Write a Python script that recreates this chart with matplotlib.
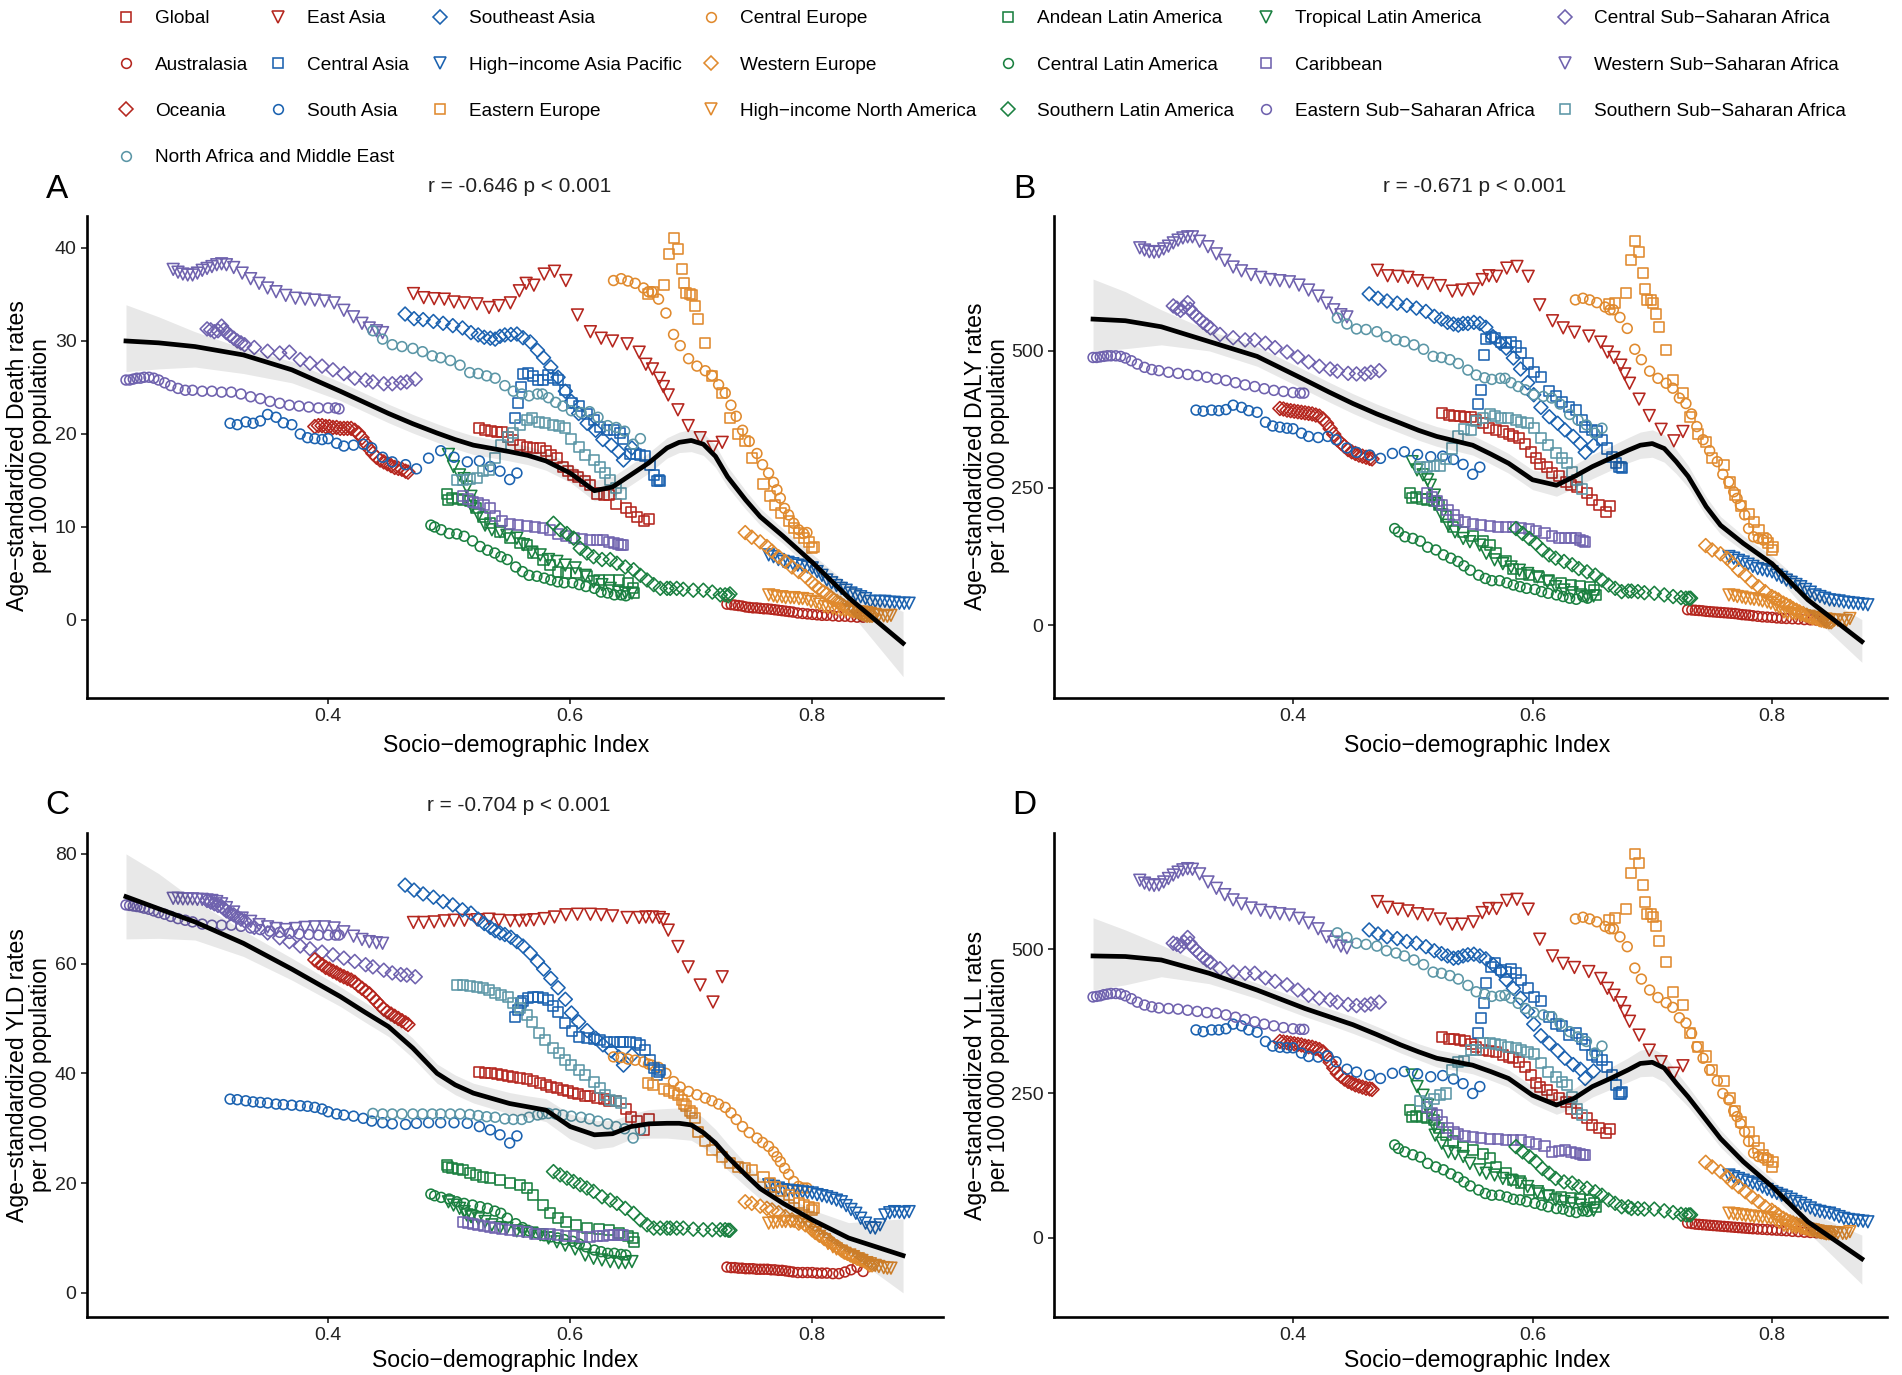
import matplotlib
matplotlib.use('Agg')
import matplotlib.pyplot as plt
from matplotlib.lines import Line2D

plt.rcParams['font.family'] = ['Liberation Sans', 'DejaVu Sans']

W, H = 1902, 1375

# values, one sdi list per region and one list per measure
sdi_global = [.5243,.530,.5345,.5393,.5435,.549,.553,.5587,.564,.5693,.575,.580,.584,.589,.594,.5985,.6025,.6066,.612,.616,.6225,.628,.632,.6375,.6458,.650,.6555,.661,.665]
death_global = [20.6,20.4,20.3,20.25,20.25,19.7,19.4,18.8,18.6,18.5,18.5,18.2,17.7,17.4,16.5,16,15.6,15.4,14.9,14.5,13.6,13.4,13.4,12.5,12,11.6,11.1,10.6,10.9]
daly_global = [386,383,382,382,380,379,374,368,359,356,353,348,344,341,331,316,304,294,289,277,271,261,255,252,240,228,219,207,217]
yld_global = [40.2,40.1,40,39.8,39.7,39.6,39.4,39.2,38.9,38.6,38.3,37.9,37.6,37.4,37,36.7,36.5,36.2,35.9,35.8,35.5,35.3,35,34.9,33.5,32.1,31.3,29.7,31.6]
yll_global = [348,345,344,343,340,336,331,325,324,322,317,313,311,305,296,282,268,262,256,247,242,236,224,216,207,195,190,181,188]

sdi_east_asia = [.4705,.479,.4876,.496,.504,.5126,.523,.533,.541,.5506,.558,.5636,.570,.5785,.587,.5964,.606,.6167,.6256,.635,.647,.657,.6625,.668,.6737,.677,.681,.689,.6975,.7074,.718,.7256]
death_east_asia = [35.1,34.66,34.55,34.5,34.2,34.1,34,33.6,33.8,34.1,35.4,36.2,36,37.2,37.5,36.5,32.8,31,30.3,30,29.7,28.8,27.5,27,26,25.1,24.2,22.6,20.9,19.6,18.6,19.1]
daly_east_asia = [647,637,636,634,628,623,619,609,611,613,630,637,636,651,654,636,584,555,542,534,527,516,498,488,474,458,441,412,382,357,336,353]
yld_east_asia = [67.5,67.5,67.6,67.8,67.9,67.9,68.0,68.1,67.9,67.8,67.8,67.9,68.0,68.2,68.5,68.9,69,69,68.9,68.7,68.4,68.4,68.5,68.5,68.4,68.0,66.1,63.1,59.4,56.1,53,57.6]
yll_east_asia = [582,572,569,566,561,559,552,543,543,547,563,570,570,584,586,569,517,488,475,468,461,449,432,420,407,392,375,351,325,305,285,298]

sdi_se_asia = [.4636,.471,.4785,.487,.495,.503,.511,.518,.524,.529,.534,.538,.542,.546,.551,.556,.561,.567,.573,.578,.584,.590,.596,.601,.607,.614,.621,.627,.634,.640,.644,.651]
death_se_asia = [32.9,32.4,32.3,32.1,31.9,31.65,31.4,30.9,30.65,30.4,30.3,30.2,30.5,30.65,30.7,30.75,30.35,29.9,29,28.2,27.2,26.1,24.6,23.5,22.2,21.15,20.4,19.4,18.8,18.1,17.2,18.5]
daly_se_asia = [604,596,591,587,583,578,572,563,558,552,549,547,550,550,552,550,543,526,514,505,487,467,442,420,397,380,368,356,344,331,315,328]
yld_se_asia = [74.3,73.4,72.7,72.1,71.3,70.7,69.8,69.2,68.1,67.3,66.6,66,65.6,65.3,64.8,64,63.2,61.9,60.4,59,57.3,55.6,53.5,51,49.4,47.8,46.4,45.2,44.1,43,41.5,43.3]
yll_se_asia = [533,526,521,518,513,510,504,497,492,488,484,485,488,490,491,488,483,473,462,447,432,415,392,370,350,337,324,311,300,292,276,289]

sdi_c_europe = [.6358,.6421,.6477,.6537,.6606,.6647,.6675,.673,.6791,.6854,.6909,.6978,.7047,.7116,.7171,.7226,.7281,.7328,.7372,.7424,.7479,.7543,.7589,.7639,.768,.7708,.7736,.7771,.7804,.7846,.7887,.7928,.7956]
death_c_europe = [36.5,36.7,36.45,36.2,35.7,35.3,35.3,34.5,33,30.7,29.5,28.1,27.3,26.8,26.3,25.3,24.4,23.1,21.9,20.4,19.2,17.9,16.7,15.8,14.8,14,13.1,12,11.3,10.4,9.7,9.3,9.4]
daly_c_europe = [593,596,593,588,580,575,575,561,541,503,484,463,450,441,432,414,404,385,362,338,318,298,275,261,243,231,219,201,176,161,158,155,158]
yld_c_europe = [43,42.9,42.6,42.4,42.1,41.7,41.5,41.1,40,38.5,37.5,36.7,36.1,35.5,35,34.4,33.8,32.8,31.6,30.3,29.2,28.2,27.4,26.7,25.7,24.8,23.9,22.7,21.6,20.3,19.4,19.1,19.1]
yll_c_europe = [552,555,552,547,539,535,535,521,504,467,448,429,416,407,399,381,372,354,331,311,291,272,250,239,220,210,198,184,167,147,141,138,139]

sdi_andean = [.498,.4992,.5025,.5074,.5116,.5174,.5223,.528,.5339,.542,.5504,.5587,.5645,.5694,.5777,.5835,.59,.5967,.605,.614,.6239,.632,.64,.648,.6516,.653]
death_andean = [13.5,12.9,13.1,13,12.9,12.8,12,11.1,10.4,9.5,8.8,8.25,8.1,7.2,6.5,5.9,5.2,5,5,4.7,4.3,4.3,4.3,4,3.4,2.9]
daly_andean = [240,231,233,230,229,227,219,198,179,170,162,154,146,131,116,103,94,91,88,82,76,73,71,70,64,55]
yld_andean = [23.3,23,22.7,22.5,22.4,21.8,21.5,21.2,20.9,20.5,20.1,19.7,19.1,17.9,16,14.5,13.6,13,12.4,11.8,11.6,11.4,10.9,10.3,10,9.3]
yll_andean = [221,210,211,209,207,204,190,178,167,158,152,146,138,123,112,100,95,83,77,74,71,69,67,66,61,54]

sdi_tropical = [.4994,.5036,.5086,.5124,.5146,.518,.5187,.5242,.5297,.5353,.5421,.5477,.5559,.5614,.5683,.5752,.5821,.589,.5959,.6041,.6124,.6193,.6262,.6331,.64,.6455,.651]
death_tropical = [17.8,16.5,15.6,15.2,14.3,13.3,12.2,11.3,10.2,9.7,9.5,9.1,8.8,8.1,7.3,7,6.5,6.3,5.9,5.6,4.8,4.1,3.8,3.4,3,2.9,2.9]
daly_tropical = [298,283,274,265,255,237,222,201,182,170,158,152,146,131,119,112,106,100,94,88,79,70,64,59,55,52,53]
yld_tropical = [16.6,16,15.4,14.8,14.2,13.9,13.9,13.5,13,12.4,11.9,11.8,11.3,11.2,10.9,10.6,10,9.3,8.7,8,6.9,6.3,6,5.7,5.5,5.5,5.7]
yll_tropical = [282,262,247,230,213,193,178,164,149,146,141,129,118,112,109,103,100,97,89,80,72,66,63,60,57,51,48]

sdi_c_ssa = [.300,.303,.306,.309,.312,.314,.316,.319,.322,.325,.328,.331,.339,.350,.360,.368,.377,.385,.395,.404,.413,.422,.431,.437,.446,.453,.460,.465,.472]
death_c_ssa = [31.3,31.2,31.0,31.1,31.6,31.2,30.9,30.6,30.3,30.0,29.8,29.6,29.3,28.9,28.7,28.8,28.0,27.6,27.3,26.9,26.5,26.0,25.8,25.6,25.4,25.4,25.5,25.6,25.9]
daly_c_ssa = [582,578,574,580,588,576,570,564,558,552,547,542,530,524,520,520,514,506,498,489,480,472,467,463,459,458,458,461,464]
yld_c_ssa = [71.5,71.2,70.9,70.6,70.4,70,69.6,69.2,68.9,68.5,68.1,67.8,66.6,65.6,64.7,64,63.2,62.7,62.1,61.6,61,60.4,59.8,59.4,58.8,58.3,58,57.9,57.6]
yll_c_ssa = [510,508,505,512,520,510,504,498,492,486,481,477,466,460,458,458,450,444,438,429,420,415,412,408,404,402,403,405,408]

sdi_australasia = [.7295,.733,.736,.739,.742,.745,.748,.751,.754,.757,.760,.763,.766,.769,.772,.775,.778,.781,.784,.788,.792,.796,.800,.804,.808,.812,.817,.822,.827,.832,.837,.842]
death_australasia = [1.7,1.65,1.6,1.55,1.5,1.4,1.35,1.3,1.3,1.25,1.2,1.2,1.15,1.1,1.05,1,.95,.9,.85,.75,.7,.65,.6,.55,.5,.5,.45,.4,.4,.35,.3,.3]
daly_australasia = [28,27.5,27,26.5,26,25,24.5,24,23.5,23,22.5,22,21.5,21,20,19,18.5,18,17,16,15,14.5,14,13,12.5,12,11.5,11,10,9.5,9,8]
yld_australasia = [4.7,4.6,4.6,4.5,4.5,4.4,4.4,4.4,4.3,4.3,4.3,4.3,4.2,4.2,4.1,4.1,4,3.9,3.8,3.7,3.7,3.7,3.7,3.6,3.6,3.6,3.5,3.5,3.8,4.2,4.7,3.9]
yll_australasia = [26,25,24,23.5,23,22.5,22,21.5,21,20.5,20,19.5,19,18.5,18,17.5,17,16.5,16,15.5,15,14.5,14,13.5,13,12.5,11.5,11,10,9.5,9,8]

sdi_c_asia = [.5545,.5567,.5592,.561,.5653,.569,.5736,.5777,.582,.586,.590,.596,.6014,.607,.614,.6195,.625,.6307,.636,.6413,.644,.6496,.654,.658,.662,.666,.6695,.672,.6744,.6736]
death_c_asia = [21.7,23.3,25.1,26.5,26.6,26.2,25.8,25.8,26.3,26,25.8,24.7,23.3,23,22.2,21.5,20.8,20.4,20.4,20.1,19.5,17.9,17.9,17.7,17.6,16.7,15.6,14.9,14.9,15.1]
daly_c_asia = [403,429,493,521,526,523,517,514,517,508,496,477,461,453,426,417,407,398,392,374,362,356,353,338,322,307,295,289,286,288]
yld_c_asia = [50.2,51.6,52.8,53.1,53.7,53.9,53.9,53.7,53.4,52.3,51.2,49.2,47.8,46.7,46.4,46.3,46,45.8,45.8,45.8,45.8,45.7,45.5,45.2,44.2,42.4,40.9,39.7,40.6,40.3]
yll_c_asia = [355,380,407,442,469,475,464,461,466,458,446,432,417,410,383,371,366,351,354,345,334,317,314,308,296,282,265,250,253,250]

sdi_hi_ap = [.764,.768,.772,.776,.780,.784,.788,.792,.796,.800,.804,.808,.812,.816,.820,.824,.828,.832,.836,.840,.844,.848,.852,.856,.860,.864,.868,.872,.876,.880]
death_hi_ap = [7,6.8,6.5,6.3,6.2,6.05,5.9,5.8,5.7,5.6,5.2,4.8,4.3,4,3.7,3.4,3.2,2.9,2.7,2.5,2.3,2,2,2,2,1.9,1.9,1.8,1.8,1.8]
daly_hi_ap = [125,122,118,115,111,107,103,101,99,97,91,87,82,78,74,70,65,60,55,52,49,46,45,44,42,41,40,39,38,37]
yld_hi_ap = [19.7,19.4,19.1,18.8,18.7,18.6,18.5,18.4,18.3,18.2,17.9,17.7,17.5,17.2,16.9,16.6,15.9,15.2,14.5,13.6,12.7,11.9,11.8,12.4,14.2,14.6,14.8,14.7,14.6,14.8]
yll_hi_ap = [109,106,103,100,97,95,92,88,84,80,77,74,71,67,63,60,56,52,48,46,44,43,40,37,34,32,31,30,29,28]

sdi_w_europe = [.7446,.75,.757,.7625,.7667,.7722,.7777,.7832,.7888,.7943,.7998,.8025,.8053,.8094,.812,.815,.8175,.8204,.823,.826,.829,.8315,.834,.837,.8395,.8412,.8435,.8453,.8475,.8494]
death_w_europe = [9.4,8.9,8.4,7.9,7.4,6.8,6.3,5.7,5.2,4.7,4,3.7,3.4,3,2.8,2.5,2.2,2,1.8,1.5,1.3,1.15,1,.9,.8,.7,.6,.5,.5,.5]
daly_w_europe = [145,137,130,122,113,100,91,79,70,61,52,49,46,40,37,34,30,27,24,21,18,15,13,12,10,9,8,7,6,6]
yld_w_europe = [16.6,16.3,15.8,15.4,15.1,14.6,13.9,13.3,12.7,12.4,11.5,11,10.6,10,9.7,9.3,8.8,8.4,8,7.5,7.2,6.9,6.6,6.3,6.1,6,5.8,5.5,5.1,5.1]
yll_w_europe = [131,123,115,106,97,89,80,71,63,54,48,44,40,34,31,28,26,24,22,19,17,15,14,13,12,11,10,9,9,9]

sdi_c_latam = [.4849,.488,.4934,.5,.5063,.5124,.5193,.5256,.5317,.5377,.5427,.548,.555,.5606,.566,.5725,.5786,.584,.5896,.595,.602,.6075,.613,.62,.6255,.631,.6365,.642,.646]
death_c_latam = [10.2,10,9.7,9.3,9.25,9,8.5,7.9,7.5,7.2,6.8,6.5,5.7,5.2,4.8,4.7,4.5,4.3,4.1,4,4,3.8,3.6,3.4,3,2.9,2.7,2.7,2.6]
daly_c_latam = [176,170,161,158,153,142,137,128,122,116,108,100,91,85,81,81,77,73,70,67,65,61,58,55,52,49,47,52,49]
yld_c_latam = [18,17.7,17.4,17.1,16.6,16.3,16,15.7,15.4,14.9,14.5,13.6,12.6,11.9,11.3,10.9,10.4,10.2,10,9.7,9.4,8.9,8.4,7.8,7.5,7.2,7.2,7,6.9]
yll_c_latam = [161,155,149,144,140,129,123,118,111,105,97,90,83,77,74,74,71,67,66,63,60,57,54,51,50,46,44,47,46]

sdi_caribbean = [.5116,.5157,.52,.524,.529,.534,.538,.5438,.5504,.557,.5645,.571,.5777,.5835,.59,.5967,.6033,.61,.6165,.6223,.6273,.6322,.6364,.6397,.642,.644]
death_caribbean = [13.3,13,12.7,12.6,12.4,12,11.2,10.6,10.3,10.2,10.1,10,9.9,9.7,9.25,9,8.8,8.7,8.6,8.6,8.55,8.4,8.25,8.15,8.1,8.1]
daly_caribbean = [240,234,227,219,210,201,192,188,185,182,180,179,178,178,177,175,172,168,162,158,158,159,158,155,153,151]
yld_caribbean = [13,12.8,12.6,12.4,12.2,12,11.8,11.6,11.4,11.2,11.0,10.8,10.7,10.7,10.6,10.4,10.3,10.2,10.2,10.3,10.4,10.5,10.6,10.6,10.6,10.5]
yll_caribbean = [227,216,213,201,190,184,180,176,175,173,172,171,170,170,169,166,162,160,149,150,152,149,147,145,144,143]

sdi_w_ssa = [.272,.276,.280,.284,.288,.292,.296,.300,.304,.308,.312,.316,.322,.329,.336,.343,.350,.357,.365,.373,.381,.389,.397,.405,.413,.421,.428,.434,.440,.445]
death_w_ssa = [37.7,37.4,37.2,37.1,37.1,37.3,37.6,37.8,38.0,38.2,38.3,38.2,37.9,37.3,36.7,36.2,35.7,35.3,34.9,34.6,34.5,34.4,34.3,34.1,33.3,32.6,31.9,31.4,31.1,30.9]
daly_w_ssa = [688,684,681,680,681,686,691,697,702,706,708,708,700,690,677,665,653,646,639,634,630,628,626,620,611,600,587,575,566,562]
yld_w_ssa = [71.9,71.9,71.8,71.8,71.8,71.7,71.7,71.6,71.5,71.3,70.9,70.2,69.4,68.3,67.7,67.1,66.7,66.4,66.2,66.4,66.6,66.7,66.7,66.5,65.8,65,64.4,64,63.8,63.7]
yll_w_ssa = [619,614,611,610,611,616,622,628,633,637,639,638,630,616,605,594,585,578,571,567,563,561,559,553,545,535,521,512,505,502]

sdi_oceania = [.389,.392,.395,.398,.401,.404,.407,.410,.413,.416,.419,.422,.425,.428,.431,.434,.437,.440,.443,.446,.449,.452,.455,.458,.461,.464,.466]
death_oceania = [20.8,20.9,20.9,20.8,20.8,20.7,20.7,20.6,20.6,20.6,20.6,20.4,20.1,19.6,19.0,18.4,17.9,17.5,17.2,17.0,16.8,16.6,16.4,16.3,16.2,16.0,15.9]
daly_oceania = [395,394,392,391,390,389,388,387,386,385,383,381,376,368,358,348,338,332,326,320,316,313,310,308,306,304,303]
yld_oceania = [60.7,60.2,59.8,59.3,59.0,58.6,58.3,57.9,57.6,57.3,57.0,56.6,56.0,55.5,55.0,54.5,53.8,53.1,52.4,51.7,51.2,50.8,50.4,50.0,49.6,49.2,48.9]
yll_oceania = [340,339,338,337,336,335,334,332,331,330,328,326,322,314,304,294,285,280,275,271,268,265,263,261,259,258,257]

sdi_s_asia = [.319,.325,.332,.338,.344,.350,.357,.363,.370,.377,.383,.389,.395,.400,.407,.413,.421,.429,.436,.445,.453,.464,.473,.483,.493,.504,.515,.525,.534,.542,.550,.556]
death_s_asia = [21.15,21.0,21.3,21.15,21.4,22.1,21.8,21.2,21.0,20.0,19.6,19.5,19.4,19.5,19.0,18.7,18.8,18.9,18.5,17.5,17.0,16.7,16.25,17.4,18.2,17.5,17.0,17.1,16.5,16.0,15.1,15.8]
daly_s_asia = [392,390,392,391,393,401,397,391,388,370,363,361,359,358,350,344,342,344,338,323,315,310,304,313,316,311,307,308,302,293,275,288]
yld_s_asia = [35.3,35.2,35.0,34.8,34.7,34.6,34.4,34.3,34.2,34.1,34.0,33.8,33.5,33.0,32.6,32.4,32.2,31.8,31.3,31.0,30.8,30.7,30.9,31.0,31.0,31.0,30.9,30.3,29.7,28.8,27.3,28.6]
yll_s_asia = [360,357,360,360,362,370,367,360,356,340,332,330,329,329,320,314,313,315,305,292,287,282,276,285,288,284,279,281,275,267,250,262]

sdi_e_europe = [.6639,.6688,.6779,.682,.6887,.6854,.6923,.6942,.6956,.6992,.7006,.7028,.7058,.7111,.7171,.7254,.7317,.7383,.7446,.7501,.7597,.7647,.7694,.7744,.7804,.7846,.7887,.7928,.797,.7998,.8011]
death_e_europe = [35,35.3,36,39.4,39.9,41.1,37.7,36.2,35.2,35.1,34.9,33.8,32.4,29.8,26.2,24.4,21.7,20,19.2,17.4,14.6,13.3,12.4,11.5,10.6,9.9,9.3,8.8,8.4,7.7,7.9]
daly_e_europe = [585,588,605,665,681,701,642,613,592,592,587,567,543,502,447,424,379,348,334,304,292,260,237,217,202,188,173,158,149,137,143]
yld_e_europe = [38.2,37.8,37.2,36.7,36.1,36.4,35.2,34.5,34.1,33.2,32.7,31.8,29.4,27.6,26,24.8,23.7,23,22.7,22.4,21.1,20,19.3,18.5,17.9,17.2,16.3,16,15.7,15.1,15.4]
yll_e_europe = [550,553,569,631,648,665,610,582,560,560,556,539,514,477,425,403,354,331,314,291,272,242,219,201,184,167,155,144,135,123,132]

sdi_hi_na = [.764,.768,.771,.775,.778,.782,.785,.789,.792,.796,.799,.803,.806,.810,.813,.817,.820,.824,.827,.831,.834,.838,.841,.845,.848,.852,.855,.859,.862,.865]
death_hi_na = [2.7,2.6,2.5,2.5,2.4,2.4,2.4,2.3,2.3,2.2,2,1.9,1.7,1.45,1.35,1.25,1.15,1.1,1,.95,.9,.85,.85,.8,.7,.6,.5,.45,.4,.5]
daly_hi_na = [55,54,52,51,49,48,47,46,44,42,40,36,32,24,22,21,20,18,17,16,14,13,12,11,10,9,9,8,8,12]
yld_hi_na = [12.7,12.8,12.9,13,13,13,13,12.9,12.8,12.4,11.9,11,10.3,9.7,9,8.4,8,7.6,7.2,6.9,6.6,6.2,5.9,5.5,5.3,5,4.8,4.6,4.5,4.5]
yll_hi_na = [43,42,41,40,39,38,37,37,36,35,34,31,27,22,21,19,18,17,16,15,14,12,11,10,10,9,9,8,8,11]

sdi_s_latam = [.5862,.5917,.5973,.6028,.6083,.6138,.6193,.6263,.6331,.6386,.6455,.6524,.658,.6635,.669,.6744,.68,.6826,.688,.6934,.7017,.71,.7174,.7240,.728,.7306,.732]
death_s_latam = [10.4,9.7,9.3,8.8,7.7,7.2,6.8,6.5,6.5,6.1,5.7,5.4,4.8,4.3,3.8,3.4,3.4,3.4,3.4,3.3,3.2,3.2,3,2.7,2.7,2.6,2.8]
daly_s_latam = [176,167,158,149,137,128,122,116,110,103,97,91,82,73,67,61,62,62,61,59,58,55,52,50,49,49,49]
yld_s_latam = [22.1,21.5,20.9,20.3,19.7,19.1,18.5,17.5,16.9,16.3,15.4,14.5,13.3,12.4,11.8,11.8,11.8,11.8,11.8,11.8,11.6,11.5,11.5,11.5,11.5,11.4,11.4]
yll_s_latam = [158,149,141,132,120,112,103,97,95,89,86,80,74,66,60,54,54,51,51,50,50,47,44,41,40,40,40]

sdi_e_ssa = [.233,.236,.239,.242,.245,.248,.252,.256,.260,.265,.270,.276,.282,.288,.296,.304,.312,.320,.328,.336,.344,.352,.360,.368,.376,.384,.392,.400,.406,.409]
death_e_ssa = [25.8,25.8,25.9,26.0,26.0,26.1,26.1,26.0,25.8,25.5,25.2,24.9,24.7,24.7,24.6,24.6,24.5,24.5,24.3,24.0,23.8,23.5,23.3,23.1,23.0,22.9,22.8,22.8,22.8,22.7]
daly_e_ssa = [488,488,489,490,491,491,491,490,487,482,476,470,466,464,461,459,457,455,452,449,446,442,438,435,431,428,426,424,423,423]
yld_e_ssa = [70.7,70.6,70.5,70.4,70.3,70.1,69.9,69.6,69.3,69,68.6,68.2,67.9,67.6,67.2,67,67,67,66.8,66.5,66.2,65.9,65.7,65.5,65.4,65.3,65.2,65.2,65.2,65.2]
yll_e_ssa = [417,418,419,421,422,423,423,422,419,414,408,403,400,398,397,396,394,392,390,389,386,382,378,374,370,367,364,362,361,361]

sdi_s_ssa = [.5063,.5118,.5174,.523,.528,.5326,.538,.543,.549,.553,.5587,.5643,.5684,.574,.5794,.586,.5905,.5958,.601,.607,.6126,.6195,.625,.629,.633,.6375,.6417]
death_s_ssa = [15,15.05,15.2,15.3,16,16.1,17.4,18.8,19.7,20.1,21,21.5,21.7,21.3,21.15,21,20.9,20.6,19.5,18.6,17.7,17.2,16.5,15.8,15.1,14.2,13.6]
daly_s_ssa = [289,289,290,291,302,322,344,357,356,373,377,385,381,377,377,374,371,368,359,342,328,313,304,295,280,265,249]
yld_s_ssa = [56.1,56.1,56,55.7,55.5,55.2,54.7,54.2,53.9,52.9,51.9,50.6,49.4,47.4,46.1,44.6,43.7,42.4,41.5,40.6,39.7,38.5,37.3,36.1,35.2,35,34.6]
yll_s_ssa = [237,234,240,247,250,291,305,307,325,325,337,338,336,334,331,328,325,322,319,302,288,279,270,265,244,224,213]

sdi_name = [.437,.445,.453,.461,.470,.478,.486,.493,.501,.509,.517,.524,.531,.538,.546,.553,.560,.566,.573,.577,.582,.588,.594,.601,.609,.616,.623,.631,.638,.645,.652,.658]
death_name = [31.1,30.2,29.6,29.4,29.2,28.85,28.4,28.2,27.9,27.4,26.6,26.5,26.25,26.0,25.2,24.6,24.3,24.1,24.3,24.3,23.9,23.4,23.0,22.5,22.3,22.4,21.8,20.9,20.7,20.3,18.9,19.5]
daly_name = [560,549,540,539,535,526,520,517,511,503,490,488,484,477,465,456,451,448,450,450,442,435,429,420,417,414,403,384,374,365,350,359]
yld_name = [32.7,32.6,32.6,32.6,32.6,32.6,32.6,32.6,32.6,32.6,32.5,32.3,32.1,32.0,31.7,31.6,31.6,32.0,32.4,32.6,32.7,32.6,32.4,32.2,32.0,31.7,31.3,30.8,30.3,29.9,28.2,29.7]
yll_name = [528,520,510,508,505,497,493,488,481,473,460,458,454,448,437,426,422,418,419,420,415,406,397,390,386,383,371,357,348,340,320,332]

# loess curves with their ribbons
curve_x = [.233,.26,.29,.33,.37,.41,.43,.45,.47,.49,.505,.52,.55,.565,.58,.60,.62,.635,.65,.665,.68,.69,.70,.71,.72,.73,.745,.757,.776,.80,.83,.875]
death_fit = [30,29.8,29.4,28.5,26.9,24.6,23.4,22.2,21.1,20.1,19.4,18.8,18.1,17.7,17.1,15.8,13.9,14.3,15.6,16.9,18.5,19.1,19.3,18.9,17.6,15.4,12.9,11.1,9,6.2,2.4,-2.5]
death_hi = [33.9,32.6,31.0,29.2,27.8,25.6,24.4,23.2,22.1,21.1,20.4,19.8,19.1,18.7,18.1,16.8,15.0,15.4,16.7,18.0,19.6,20.2,20.5,20.1,18.8,16.5,13.9,12.0,9.8,7.1,3.8,0.9]
death_lo = [26.7,27.0,27.2,26.5,25.5,23.6,22.4,21.2,20.1,19.1,18.4,17.8,17.1,16.7,16.1,14.8,12.8,13.2,14.5,15.8,17.4,18.0,18.1,17.7,16.4,14.3,11.9,10.2,8.2,5.3,1.0,-6.1]
daly_fit = [558,555,544,517,490,447,425,404,385,368,355,344,328,312,295,265,255,271,289,304,319,328,331,322,298,271,216,182,149,112,46,-30]
daly_hi = [631,608,575,537,508,465,443,422,403,386,373,362,346,330,313,283,275,292,311,326,342,352,356,347,320,291,234,198,163,126,68,10]
daly_lo = [499,504,511,500,472,429,407,386,367,350,337,326,310,294,277,247,235,250,267,282,296,304,306,297,276,251,198,166,135,98,24,-68]
yld_fit = [72.2,70,67.6,63.7,59,54,51.2,48.5,44.6,40,37.9,36.4,34.5,33.9,33.3,30.3,28.8,29,30.3,30.8,30.9,30.9,30.6,29.2,27.3,24.8,21.5,19,16.3,13.3,10,6.8]
yld_hi = [80,76.4,71.5,66,61,55.8,53,50.3,46.4,41.7,39.7,38.2,36.5,35.9,35.4,32.6,31.4,31.4,32.6,33.4,33.6,33.7,33.4,31.9,29.8,27.2,23.6,20.9,18,15.1,12.8,13.5]
yld_lo = [64.5,64.6,64.3,61.3,57,52.2,49.4,46.7,42.8,38.2,36.1,34.6,32.6,32,31.2,28,26.2,26.6,28,28.2,28.2,28,27.8,26.5,24.8,22.4,19.4,17.1,14.6,11.5,7.2,0]
yll_fit = [488,487,481,458,429,397,383,369,352,334,322,311,299,288,276,247,230,242,262,276,291,302,304,294,268,244,204,172,132,89,28,-36]
yll_hi = [554,533,507,470,441,411,397,383,366,348,336,326,314,303,291,263,246,259,280,295,312,325,328,317,288,262,220,187,145,102,46,5]
yll_lo = [429,438,452,440,414,383,369,354,338,320,308,296,284,273,261,232,214,225,244,257,270,279,280,270,248,227,188,157,119,76,10,-80]

RED, BLUE, ORANGE, GREEN, PURPLE, TEAL = '#B5261E', '#1B62B0', '#E08A2E', '#1A8040', '#6F62AE', '#5B96A6'
SQ, CI, DI, TR = 's', 'o', 'D', 'v'

# name, colour, marker, sdi, death, daly, yld, yll
regions = [
    ('Global', RED, SQ, sdi_global, death_global, daly_global, yld_global, yll_global),
    ('East Asia', RED, TR, sdi_east_asia, death_east_asia, daly_east_asia, yld_east_asia, yll_east_asia),
    ('Southeast Asia', BLUE, DI, sdi_se_asia, death_se_asia, daly_se_asia, yld_se_asia, yll_se_asia),
    ('Central Europe', ORANGE, CI, sdi_c_europe, death_c_europe, daly_c_europe, yld_c_europe, yll_c_europe),
    ('Andean Latin America', GREEN, SQ, sdi_andean, death_andean, daly_andean, yld_andean, yll_andean),
    ('Tropical Latin America', GREEN, TR, sdi_tropical, death_tropical, daly_tropical, yld_tropical, yll_tropical),
    ('Central Sub\u2212Saharan Africa', PURPLE, DI, sdi_c_ssa, death_c_ssa, daly_c_ssa, yld_c_ssa, yll_c_ssa),
    ('Australasia', RED, CI, sdi_australasia, death_australasia, daly_australasia, yld_australasia, yll_australasia),
    ('Central Asia', BLUE, SQ, sdi_c_asia, death_c_asia, daly_c_asia, yld_c_asia, yll_c_asia),
    ('High\u2212income Asia Pacific', BLUE, TR, sdi_hi_ap, death_hi_ap, daly_hi_ap, yld_hi_ap, yll_hi_ap),
    ('Western Europe', ORANGE, DI, sdi_w_europe, death_w_europe, daly_w_europe, yld_w_europe, yll_w_europe),
    ('Central Latin America', GREEN, CI, sdi_c_latam, death_c_latam, daly_c_latam, yld_c_latam, yll_c_latam),
    ('Caribbean', PURPLE, SQ, sdi_caribbean, death_caribbean, daly_caribbean, yld_caribbean, yll_caribbean),
    ('Western Sub\u2212Saharan Africa', PURPLE, TR, sdi_w_ssa, death_w_ssa, daly_w_ssa, yld_w_ssa, yll_w_ssa),
    ('Oceania', RED, DI, sdi_oceania, death_oceania, daly_oceania, yld_oceania, yll_oceania),
    ('South Asia', BLUE, CI, sdi_s_asia, death_s_asia, daly_s_asia, yld_s_asia, yll_s_asia),
    ('Eastern Europe', ORANGE, SQ, sdi_e_europe, death_e_europe, daly_e_europe, yld_e_europe, yll_e_europe),
    ('High\u2212income North America', ORANGE, TR, sdi_hi_na, death_hi_na, daly_hi_na, yld_hi_na, yll_hi_na),
    ('Southern Latin America', GREEN, DI, sdi_s_latam, death_s_latam, daly_s_latam, yld_s_latam, yll_s_latam),
    ('Eastern Sub\u2212Saharan Africa', PURPLE, CI, sdi_e_ssa, death_e_ssa, daly_e_ssa, yld_e_ssa, yll_e_ssa),
    ('Southern Sub\u2212Saharan Africa', TEAL, SQ, sdi_s_ssa, death_s_ssa, daly_s_ssa, yld_s_ssa, yll_s_ssa),
    ('North Africa and Middle East', TEAL, CI, sdi_name, death_name, daly_name, yld_name, yll_name),
]
sizes = {SQ: 52, CI: 50, DI: 50, TR: 72}

fig = plt.figure(figsize=(W / 100, H / 100), dpi=100, facecolor='white')


def px_axes(l, t, r, b):
    return fig.add_axes([l / W, 1 - b / H, (r - l) / W, (b - t) / H])


# box in pixels, xlim, ylim, yticks, measure index, curve lists, letter, ylabel, title, text spots
panels = [
    ((87, 216, 943, 698), (.2008, .908), (-8.39, 43.44), [0, 10, 20, 30, 40], 4,
     death_fit, death_hi, death_lo, 'A', 'Age\u2212standardized Death rates\nper 100 000 population',
     'r = -0.646 p < 0.001', 57, 190, 520, 187, 29, 456, 516, 745),
    ((1054, 216, 1887, 698), (.2004, .896), (-133, 746), [0, 250, 500], 5,
     daly_fit, daly_hi, daly_lo, 'B', 'Age\u2212standardized DALY rates\nper 100 000 population',
     'r = -0.671 p < 0.001', 1024, 190, 1475, 187, 987, 456, 1477, 745),
    ((87, 833, 943, 1317), (.2008, .908), (-4.4, 83.8), [0, 20, 40, 60, 80], 6,
     yld_fit, yld_hi, yld_lo, 'C', 'Age\u2212standardized YLD rates\nper 100 000 population',
     'r = -0.704 p < 0.001', 57, 805, 519, 806, 29, 1075, 505, 1361),
    ((1054, 833, 1887, 1317), (.2004, .896), (-136.7, 700.7), [0, 250, 500], 7,
     yll_fit, yll_hi, yll_lo, 'D', 'Age\u2212standardized YLL rates\nper 100 000 population',
     '', 1024, 805, 1475, 806, 987, 1075, 1477, 1361),
]

for box, xlim, ylim, yticks, idx, fit, hi, lo, letter, ylab, title, lx, ly, tx, ty, yx, yy, xx, xy in panels:
    ax = px_axes(*box)
    for reg in regions:
        ax.scatter(reg[3], reg[idx], s=sizes[reg[2]], marker=reg[2], facecolors='none',
                   edgecolors=reg[1], linewidths=1.15, zorder=2)
    ax.fill_between(curve_x, lo, hi, color='black', alpha=0.09, linewidth=0, zorder=3)
    ax.plot(curve_x, fit, color='black', lw=3.4, zorder=4, solid_joinstyle='round')
    ax.set_xlim(*xlim)
    ax.set_ylim(*ylim)
    ax.set_xticks([.4, .6, .8])
    ax.set_xticklabels(['0.4', '0.6', '0.8'])
    ax.set_yticks(yticks)
    ax.tick_params(labelsize=14, length=4, width=1.2, colors='#222222')
    ax.spines['top'].set_visible(False)
    ax.spines['right'].set_visible(False)
    ax.spines['left'].set_linewidth(1.9)
    ax.spines['bottom'].set_linewidth(1.9)
    fig.text(lx / W, 1 - ly / H, letter, fontsize=24, ha='center', va='center')
    if title:
        fig.text(tx / W, 1 - ty / H, title, fontsize=15, ha='center', va='center', color='#222222')
    fig.text(yx / W, 1 - yy / H, ylab, fontsize=16.6, rotation=90, ha='center', va='center',
             multialignment='center', linespacing=1.0)
    fig.text(xx / W, 1 - xy / H, 'Socio\u2212demographic Index', fontsize=16.6, ha='center', va='center')

# legend, one block per column
columns = [
    (126, ['Global', 'Australasia', 'Oceania', 'North Africa and Middle East']),
    (278, ['East Asia', 'Central Asia', 'South Asia']),
    (440, ['Southeast Asia', 'High\u2212income Asia Pacific', 'Eastern Europe']),
    (711, ['Central Europe', 'Western Europe', 'High\u2212income North America']),
    (1008, ['Andean Latin America', 'Central Latin America', 'Southern Latin America']),
    (1266, ['Tropical Latin America', 'Caribbean', 'Eastern Sub\u2212Saharan Africa']),
    (1565, ['Central Sub\u2212Saharan Africa', 'Western Sub\u2212Saharan Africa', 'Southern Sub\u2212Saharan Africa']),
]
lookup = {r[0]: r for r in regions}
for mx, names in columns:
    handles = [Line2D([], [], linestyle='none', marker=lookup[n][2], markerfacecolor='none',
                      markeredgecolor=lookup[n][1], markeredgewidth=1.15,
                      markersize=7 if lookup[n][2] != TR else 8.5) for n in names]
    fig.legend(handles, names, loc='upper left', bbox_to_anchor=((mx - 9.5) / W, 1 - 10.2 / H), frameon=False,
               fontsize=13.65, labelspacing=1.53, handlelength=1.0, handletextpad=1.05, borderpad=0, borderaxespad=0)

fig.savefig('out.png', dpi=100)
